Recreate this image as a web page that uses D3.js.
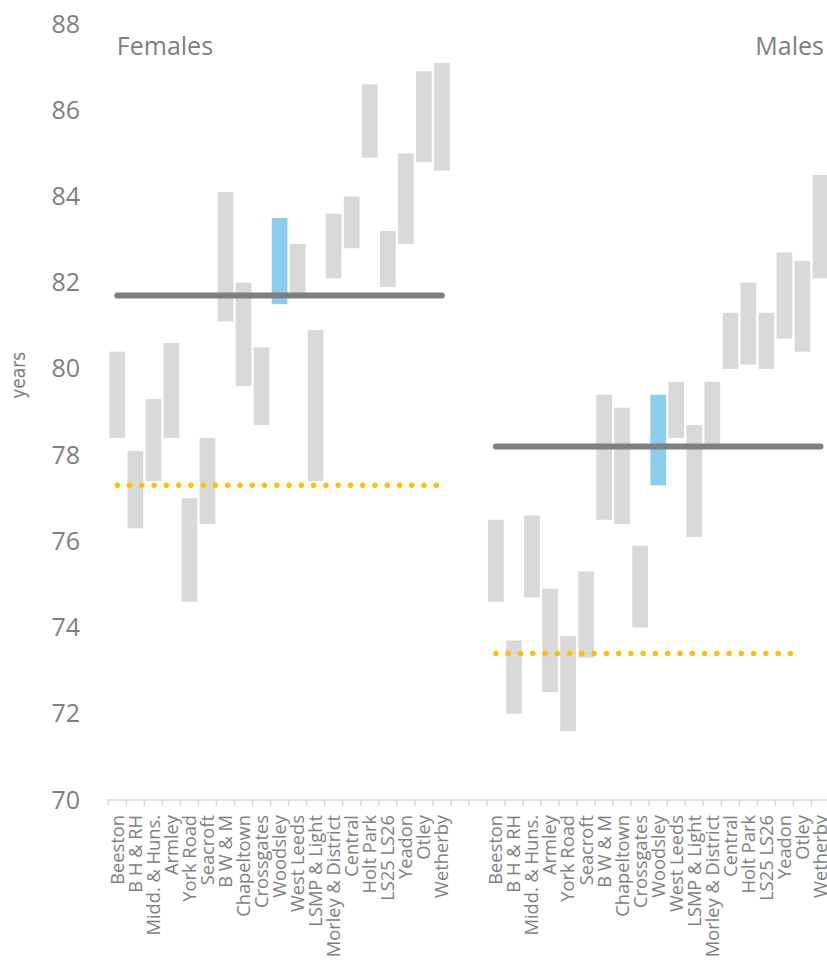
<!DOCTYPE html>
<html>
<head>
<meta charset="utf-8">
<script src="https://cdn.jsdelivr.net/npm/d3@7"></script>
<style>
  html, body { margin: 0; padding: 0; background: #fff; }
  svg { display: block; }
</style>
</head>
<body>
<script>
// ---------- data ----------
const areas = ["Beeston","B H & RH","Midd. & Huns.","Armley","York Road","Seacroft","B W & M","Chapeltown","Crossgates","Woodsley","West Leeds","LSMP & Light","Morley & District","Central","Holt Park","LS25 LS26","Yeadon","Otley","Wetherby"];
const panels = ["Females", "Males"];
const femaleLow  = [78.4, 76.3, 77.4, 78.4, 74.6, 76.4, 81.1, 79.6, 78.7, 81.5, 81.7, 77.4, 82.1, 82.8, 84.9, 81.9, 82.9, 84.8, 84.6];
const femaleHigh = [80.4, 78.1, 79.3, 80.6, 77.0, 78.4, 84.1, 82.0, 80.5, 83.5, 82.9, 80.9, 83.6, 84.0, 86.6, 83.2, 85.0, 86.9, 87.1];
const maleLow    = [74.6, 72.0, 74.7, 72.5, 71.6, 73.3, 76.5, 76.4, 74.0, 77.3, 78.4, 76.1, 78.2, 80.0, 80.1, 80.0, 80.7, 80.4, 82.1];
const maleHigh   = [76.5, 73.7, 76.6, 74.9, 73.8, 75.3, 79.4, 79.1, 75.9, 79.4, 79.7, 78.7, 79.7, 81.3, 82.0, 81.3, 82.7, 82.5, 84.5];
const highlightArea = "Woodsley";
const leedsAverage = [81.7, 78.2];      // solid grey line per panel
const otherAverage = [77.3, 73.4];      // dotted yellow line per panel
const otherAverageEnd = ["Wetherby", "Otley"];
const gapSlots = ["gap1", "gap2"];
const yTicks = [70, 72, 74, 76, 78, 80, 82, 84, 86, 88];

// ---------- layout ----------
const W = 827, H = 962;
const svg = d3.select("body").append("svg").attr("width", W).attr("height", H);

const keys = [
  ...areas.map(a => "F|" + a),
  ...gapSlots,
  ...areas.map(a => "M|" + a)
];
const x = d3.scaleBand().domain(keys).range([108.3, 108.3 + keys.length * 18.03]).padding(0);
const y = d3.scaleLinear().domain([70, 88]).range([800, 24]);
const bw = x.bandwidth() * 0.87;
const cx = k => x(k) + x.bandwidth() / 2;

const grey = "#7f7f7f";
const font = "'Open Sans', 'Noto Sans', sans-serif";

// y axis
const yAxis = d3.axisLeft(y).tickValues(yTicks).tickSize(0).tickPadding(28).tickFormat(d3.format("d"));
const gy = svg.append("g").attr("transform", "translate(108,0)").call(yAxis);
gy.select(".domain").remove();
gy.selectAll("text").attr("fill", grey).style("font-family", font).style("font-size", "25px");

svg.append("text")
  .attr("transform", `translate(18,${y(79.85)}) rotate(-90)`)
  .attr("text-anchor", "middle").attr("dy", "0.35em")
  .attr("fill", grey)
  .style("font-family", "'Liberation Sans Narrow', 'DejaVu Sans Condensed', sans-serif")
  .style("font-size", "19px")
  .style("font-stretch", "condensed")
  .text("years");

// x axis line & ticks
const axisColor = "#d9d9d9";
const [r0, r1] = x.range();
svg.append("line").attr("x1", r0 - 1.5).attr("x2", r1).attr("y1", y(70)).attr("y2", y(70))
  .attr("stroke", axisColor).attr("stroke-width", 1.5);
const boundaries = keys.map(k => x(k)).concat([r1]);
svg.append("g").selectAll("line").data(boundaries).join("line")
  .attr("x1", d => d).attr("x2", d => d)
  .attr("y1", y(70)).attr("y2", y(70) + 6)
  .attr("stroke", axisColor).attr("stroke-width", 1.5);

// category labels
svg.append("g").selectAll("text").data(keys.filter(k => k.includes("|"))).join("text")
  .attr("transform", k => `translate(${cx(k)},${y(70) + 15}) rotate(-90)`)
  .attr("text-anchor", "end").attr("dy", "0.35em")
  .attr("fill", grey)
  .style("font-family", font).style("font-size", "18.3px")
  .text(k => k.split("|")[1]);

// bars
const series = [
  { prefix: "F|", low: femaleLow, high: femaleHigh },
  { prefix: "M|", low: maleLow, high: maleHigh }
];
series.forEach(s => {
  const rows = areas.map((a, i) => ({ key: s.prefix + a, area: a, lo: s.low[i], hi: s.high[i] }));
  svg.append("g").selectAll("rect").data(rows).join("rect")
    .attr("x", d => cx(d.key) - bw / 2)
    .attr("width", bw)
    .attr("y", d => y(d.hi))
    .attr("height", d => y(d.lo) - y(d.hi))
    .attr("fill", d => d.area === highlightArea ? "#8acdee" : "#d9d9d9");
});

// average lines
series.forEach((s, i) => {
  const first = s.prefix + areas[0];
  const last = s.prefix + areas[areas.length - 1];
  svg.append("line")
    .attr("x1", cx(first)).attr("x2", cx(last))
    .attr("y1", y(leedsAverage[i])).attr("y2", y(leedsAverage[i]))
    .attr("stroke", grey).attr("stroke-width", 6).attr("stroke-linecap", "round");
  svg.append("line")
    .attr("x1", cx(first)).attr("x2", cx(s.prefix + otherAverageEnd[i]))
    .attr("y1", y(otherAverage[i])).attr("y2", y(otherAverage[i]))
    .attr("stroke", "#ffc000").attr("stroke-width", 5.5)
    .attr("stroke-linecap", "round").attr("stroke-dasharray", "0,12.27");
});

// panel titles
svg.append("text").attr("x", cx("F|" + areas[0]) - 0.5).attr("y", 55)
  .attr("fill", grey).style("font-family", font).style("font-size", "25px")
  .text(panels[0]);
svg.append("text").attr("x", 824).attr("y", 55).attr("text-anchor", "end")
  .attr("fill", grey).style("font-family", font).style("font-size", "25px")
  .text(panels[1]);
</script>
</body>
</html>
